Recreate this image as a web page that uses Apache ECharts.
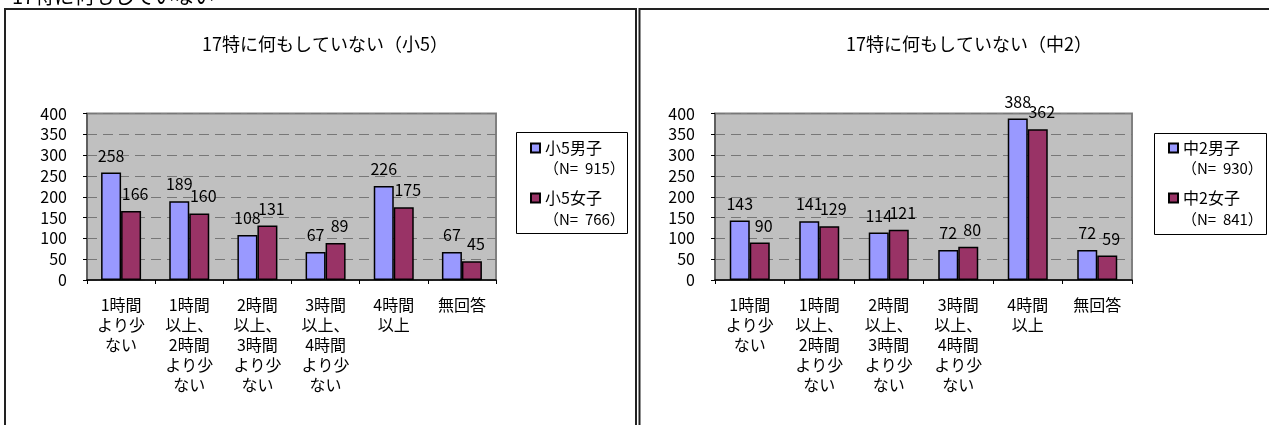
<!DOCTYPE html>
<html lang="ja">
<head>
    <meta charset="UTF-8">
    <title>17特に何もしていない</title>
    <script src="https://cdn.jsdelivr.net/npm/echarts@6/dist/echarts.min.js"></script>
    <style>
        body { margin: 0; background: #fff; }
        #main { width: 1269px; height: 425px; }
    </style>
</head>
<body>
<div id="main"></div>
<script>
    // 区分
    const categories = ['1時間\nより少\nない', '1時間\n以上、\n2時間\nより少\nない', '2時間\n以上、\n3時間\nより少\nない',
        '3時間\n以上、\n4時間\nより少\nない', '4時間\n以上', '無回答']
    // 小5
    const boysP5 = [258, 189, 108, 67, 226, 67]
    const girlsP5 = [166, 160, 131, 89, 175, 45]
    const nP5 = [915, 766]
    // 中2
    const boysM2 = [143, 141, 114, 72, 388, 72]
    const girlsM2 = [90, 129, 121, 80, 362, 59]
    const nM2 = [930, 841]

    const FONT = '"Noto Sans CJK JP", "Noto Sans", sans-serif'
    const BOY = '#9999FF', GIRL = '#993366'

    let myChart = echarts.init(document.getElementById('main'))

    function xAxisOf(idx) {
        return {
            type: 'category', gridIndex: idx, data: categories,
            axisLine: {lineStyle: {color: '#000', width: 1.5}},
            axisTick: {show: true, length: 4, lineStyle: {color: '#000'}},
            axisLabel: {color: '#000', fontSize: 16, fontFamily: FONT, lineHeight: 20, margin: 15, interval: 0}
        }
    }

    function yAxisOf(idx) {
        return {
            type: 'value', gridIndex: idx, min: 0, max: 400, interval: 50,
            axisLine: {show: true, lineStyle: {color: '#555', width: 1.5}},
            axisTick: {show: true, length: 4, lineStyle: {color: '#000'}},
            axisLabel: {color: '#000', fontSize: 16, fontFamily: FONT, margin: 20},
            splitLine: {lineStyle: {color: '#777', type: [10, 6], width: 1}}
        }
    }

    function barOf(name, data, idx, color, dx) {
        return {
            name: name, type: 'bar', xAxisIndex: idx, yAxisIndex: idx, data: data,
            barWidth: 20, barGap: '0%',
            itemStyle: {color: color, borderColor: '#000', borderWidth: 1.5},
            label: {show: true, position: 'top', distance: 9, offset: [dx, 0],
                color: '#000', fontSize: 16, fontFamily: FONT}
        }
    }

    function legendOf(left, names) {
        return {
            orient: 'vertical', left: left, top: 140, itemWidth: 9, itemHeight: 9, itemGap: 34,
            icon: 'rect', data: names, padding: 0,
            textStyle: {color: '#000', fontSize: 16, fontFamily: FONT}
        }
    }

    function nText(x, y, n) {
        return {type: 'text', x: x, y: y,
            style: {text: '（N=  ' + n + '）', fill: '#000', font: '15px ' + FONT, verticalAlign: 'middle'}}
    }

    const option = {
        animation: false,
        textStyle: {fontFamily: FONT},
        title: [
            {text: '17特に何もしていない（小5）', left: 320, top: 30, textAlign: 'center',
                textStyle: {fontSize: 18, fontWeight: 'normal', color: '#000', fontFamily: FONT}},
            {text: '17特に何もしていない（中2）', left: 964, top: 30, textAlign: 'center',
                textStyle: {fontSize: 18, fontWeight: 'normal', color: '#000', fontFamily: FONT}}
        ],
        grid: [
            {left: 87, top: 113.5, width: 409, height: 166.5, show: true,
                backgroundColor: '#C0C0C0', borderColor: '#808080', borderWidth: 2},
            {left: 715, top: 113.5, width: 417, height: 166.5, show: true,
                backgroundColor: '#C0C0C0', borderColor: '#808080', borderWidth: 2}
        ],
        xAxis: [xAxisOf(0), xAxisOf(1)],
        yAxis: [yAxisOf(0), yAxisOf(1)],
        legend: [
            legendOf(530, ['小5男子', '小5女子']),
            legendOf(1168, ['中2男子', '中2女子'])
        ],
        series: [
            barOf('小5男子', boysP5, 0, BOY, 0),
            barOf('小5女子', girlsP5, 0, GIRL, 4),
            barOf('中2男子', boysM2, 1, BOY, 0),
            barOf('中2女子', girlsM2, 1, GIRL, 4)
        ],
        graphic: [
            // 上の見出し（一部だけ見える）
            {type: 'text', x: 12, y: -4,
                style: {text: '17特に何もしていない', fill: '#000', font: '20px ' + FONT, verticalAlign: 'middle'}},
            // 枠
            {type: 'rect', shape: {x: 5, y: 9, width: 631, height: 500},
                style: {fill: null, stroke: '#222', lineWidth: 2}},
            {type: 'rect', shape: {x: 639.5, y: 9, width: 700, height: 500},
                style: {fill: null, stroke: '#222', lineWidth: 2}},
            // 凡例の枠
            {type: 'rect', shape: {x: 516.5, y: 132.5, width: 111, height: 101},
                style: {fill: null, stroke: '#000', lineWidth: 1}},
            {type: 'rect', shape: {x: 1154.5, y: 133.5, width: 112, height: 101},
                style: {fill: null, stroke: '#000', lineWidth: 1}},
            nText(544, 168, nP5[0]),
            nText(544, 219, nP5[1]),
            nText(1182, 168, nM2[0]),
            nText(1182, 219, nM2[1])
        ]
    }

    myChart.setOption(option)
</script>
</body>
</html>
